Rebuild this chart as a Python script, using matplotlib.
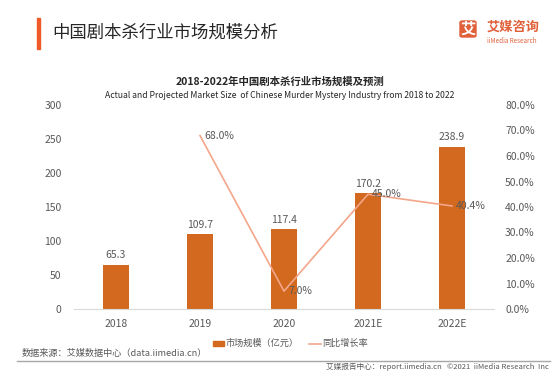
import matplotlib
matplotlib.use('Agg')
import matplotlib.pyplot as plt
from matplotlib.patches import Rectangle, FancyBboxPatch
from matplotlib.lines import Line2D
import numpy as np

plt.rcParams['font.family'] = ['Noto Sans CJK SC', 'DejaVu Sans']
plt.rcParams['axes.unicode_minus'] = False

# 数据
years = ['2018', '2019', '2020', '2021E', '2022E']
market_size = [65.3, 109.7, 117.4, 170.2, 238.9]
growth_years = ['2019', '2020', '2021E', '2022E']
growth_rate = [68.0, 7.0, 45.0, 40.4]

bar_color = '#D2691F'
line_color = '#F3A68A'
grey_text = '#595959'

fig = plt.figure(figsize=(5.6, 3.78), dpi=100)
ax = fig.add_axes([74/560, 1-309/378, 420/560, 204/378])

x = np.arange(len(years))
ax.bar(x, market_size, width=0.31, color=bar_color, zorder=2)
for xi, v in zip(x, market_size):
    ax.annotate(f'{v:.1f}', (xi, v), xytext=(0, 3), textcoords='offset points',
                ha='center', va='bottom', fontsize=7.5, color=grey_text)

ax.set_xlim(-0.5, len(years) - 0.5)
ax.set_ylim(0, 300)
ax.set_yticks(range(0, 301, 50))
ax.set_xticks(x)
ax.set_xticklabels(years)
ax.tick_params(axis='both', length=0, labelsize=7.5, labelcolor=grey_text)
ax.tick_params(axis='y', pad=9)
ax.tick_params(axis='x', pad=7)
for s in ['top', 'right', 'left']:
    ax.spines[s].set_visible(False)
ax.spines['bottom'].set_color('#D9D9D9')

ax2 = ax.twinx()
gx = [years.index(y) for y in growth_years]
ax2.plot(gx, growth_rate, color=line_color, lw=1.2, zorder=3)
for xi, v in zip(gx, growth_rate):
    ax2.annotate(f'{v:.1f}%', (xi, v), xytext=(3, 0), textcoords='offset points',
                 ha='left', va='center', fontsize=7.5, color=grey_text)
ax2.set_ylim(0, 80)
ax2.set_yticks(range(0, 81, 10))
ax2.set_yticklabels([f'{t:.1f}%' for t in range(0, 81, 10)])
ax2.tick_params(axis='y', length=0, labelsize=7.5, labelcolor=grey_text, pad=8)
for s in ['top', 'right', 'left', 'bottom']:
    ax2.spines[s].set_visible(False)

# 标题区
fig.patches.append(Rectangle((37/560, 1-49/378), 3/560, 31/378, transform=fig.transFigure,
                             color='#F05A28'))
fig.text(52/560, 1-33/378, '中国剧本杀行业市场规模分析', fontsize=12.5, color='#262626',
         va='center', ha='left')

# logo
fig.patches.append(FancyBboxPatch((460/560, 1-37/378), 16/560, 16/378, transform=fig.transFigure,
                                  boxstyle='round,pad=0,rounding_size=0.004', color='#E0603A'))
fig.text(468/560, 1-29/378, '艾', fontsize=11, color='white', ha='center', va='center',
         fontweight='bold')
fig.text(487/560, 1-27/378, '艾媒咨询', fontsize=9.5, color='#E0603A', ha='left', va='center',
         fontweight='bold')
fig.text(487/560, 1-41/378, 'iiMedia Research', fontsize=4.5, color='#E0603A', ha='left',
         va='center')

fig.text(0.5, 1-82/378, '2018-2022年中国剧本杀行业市场规模及预测', fontsize=7.5,
         fontweight='bold', ha='center', va='center', color='#262626')
fig.text(0.5, 1-96/378, 'Actual and Projected Market Size  of Chinese Murder Mystery Industry from 2018 to 2022',
         fontsize=6.2, ha='center', va='center', color='#262626')

# 图例
fig.patches.append(Rectangle((213/560, 1-346/378), 11/560, 5/378, transform=fig.transFigure,
                             color=bar_color))
fig.text(226/560, 1-343/378, '市场规模（亿元）', fontsize=6.6, color=grey_text, va='center')
fig.lines.append(Line2D([309/560, 321/560], [1-344/378, 1-344/378], transform=fig.transFigure,
                        color=line_color, lw=1.2))
fig.text(322/560, 1-343/378, '同比增长率', fontsize=6.6, color=grey_text, va='center')

# 底部
fig.text(22/560, 1-353/378, '数据来源：艾媒数据中心（data.iimedia.cn）', fontsize=6.6,
         color=grey_text, va='center')
fig.lines.append(Line2D([17/560, 550/560], [1-361/378, 1-361/378], transform=fig.transFigure,
                        color='#A6A6A6', lw=1))
fig.text(549/560, 1-367/378, '艾媒报告中心：report.iimedia.cn   ©2021  iiMedia Research  Inc',
         fontsize=5.5, color=grey_text, va='center', ha='right')

fig.savefig('out.png', dpi=100)
